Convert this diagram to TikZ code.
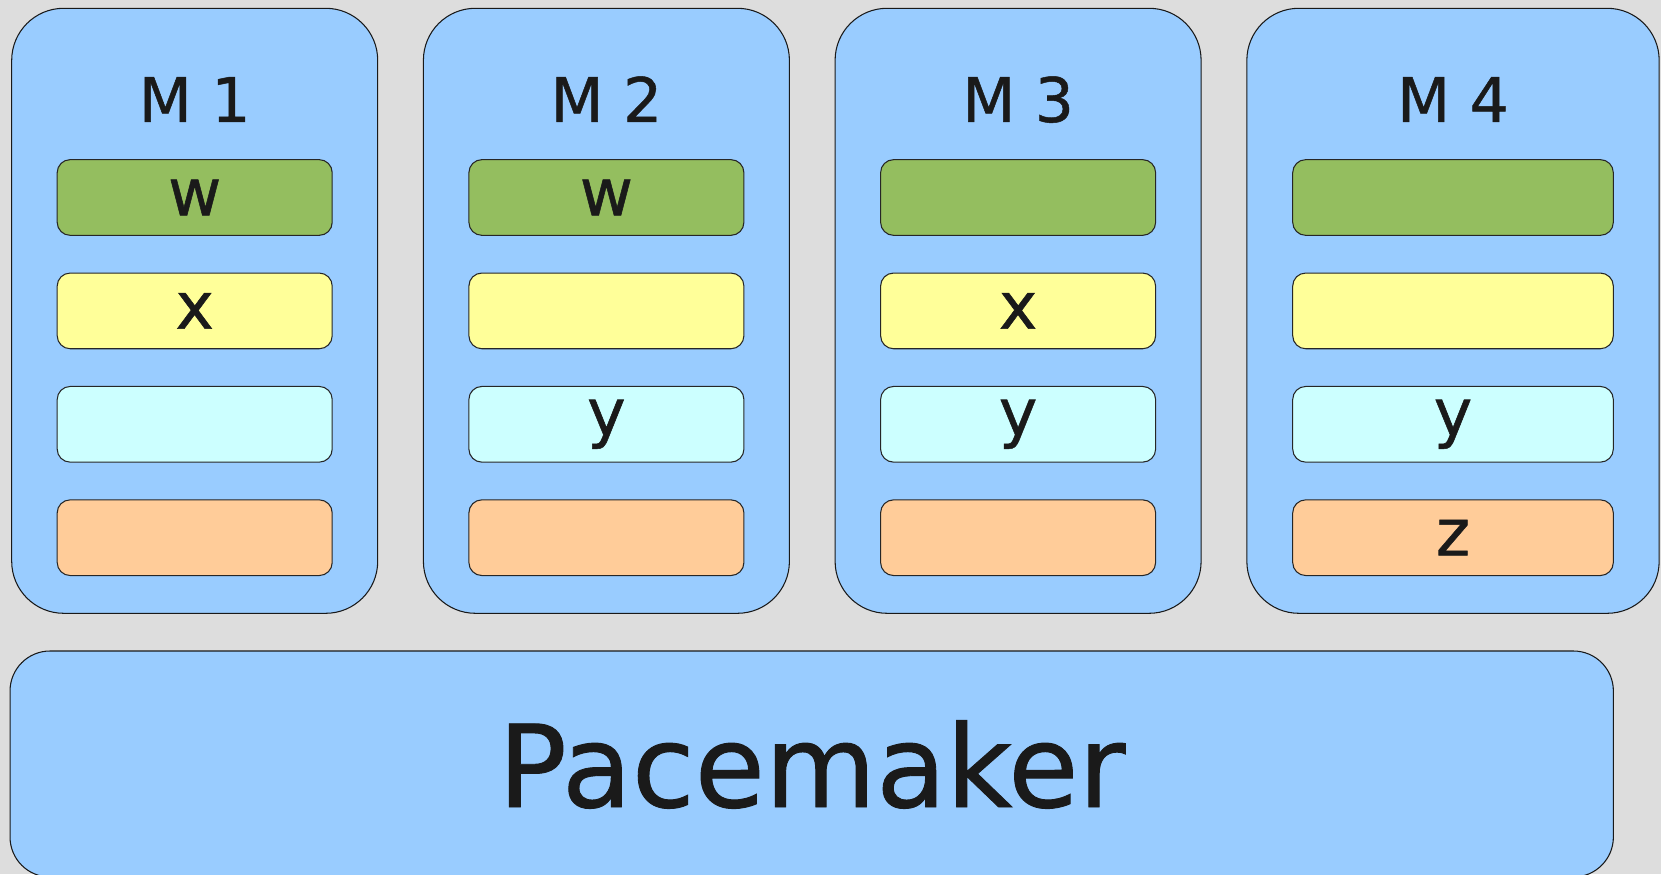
\documentclass[tikz,border=0pt]{standalone}
\usepackage{fontspec}
\setmainfont{DejaVu Sans}
\newfontfamily\heavyfont[FakeBold=0.8]{DejaVu Sans}

\definecolor{bggray}{HTML}{DDDDDD}
\definecolor{skyblue}{HTML}{99CCFF}
\definecolor{slotgreen}{HTML}{94BE5F}
\definecolor{slotyellow}{HTML}{FFFF99}
\definecolor{slotcyan}{HTML}{CCFFFF}
\definecolor{slotorange}{HTML}{FFCC99}
\definecolor{inkblack}{HTML}{1A1A1A}

\tikzset{
  panel/.style={draw=black!90,line width=0.6pt,fill=skyblue,rounded corners=10.4mm,
    inner sep=0pt,outer sep=0pt,minimum height=121mm},
  slot/.style={draw=black!85,line width=0.6pt,rounded corners=2.6mm,inner sep=0pt,
    outer sep=0pt,minimum height=15.14mm,text=inkblack,
    font=\heavyfont\fontsize{37}{40}\selectfont},
  title/.style={anchor=base,text=inkblack,font=\heavyfont\fontsize{35}{40}\selectfont}
}

\begin{document}
\begin{tikzpicture}[x=0.2mm,y=0.2mm]
  \fill[bggray] (0,0) rectangle (1661,874);
  \useasboundingbox (0,0) rectangle (1661,874);
  % one panel per machine: number / centre / panel width / slot width / slot labels
  \foreach \i/\cx/\pw/\sw/\lw/\lx/\ly/\lz in {
      1/194.7/73.2/55/w/x/{}/{},
      2/606.4/73.2/55/w/{}/y/{},
      3/1018.1/73.2/55/{}/x/y/{},
      4/1453/82.46/64.12/{}/{}/y/z} {
    \node[panel,minimum width=\pw mm] (m\i) at (\cx,563.2) {};
    \node[title] (t\i) at (\cx,752) {M \i};
    \node[slot,fill=slotgreen,minimum width=\sw mm] (w\i) at (\cx,676.5) {\lw};
    \node[slot,fill=slotyellow,minimum width=\sw mm] (x\i) at (\cx,563.1) {\lx};
    \node[slot,fill=slotcyan,minimum width=\sw mm] (y\i) at (\cx,449.7) {\ly};
    \node[slot,fill=slotorange,minimum width=\sw mm] (z\i) at (\cx,336.3) {\lz};
  }
  % cluster manager underneath
  \node[panel,rounded corners=8mm,minimum width=320.66mm,minimum height=45.2mm]
    (pm) at (811.7,110) {};
  \node[anchor=base,text=inkblack,font=\heavyfont\fontsize{65}{70}\selectfont]
    (pmlabel) at (811.7,67) {Pacemaker};
\end{tikzpicture}
\end{document}
